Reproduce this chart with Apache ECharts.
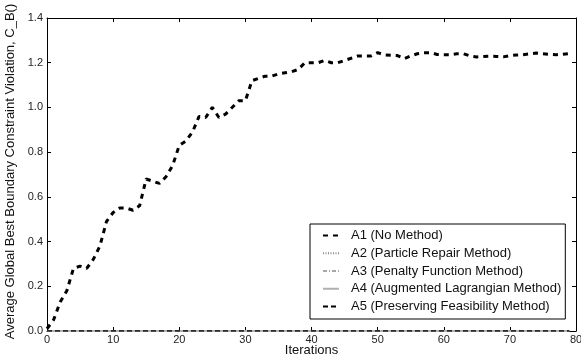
<!DOCTYPE html>
<html>
<head>
<meta charset="utf-8">
<script src="https://cdn.jsdelivr.net/npm/echarts@6/dist/echarts.min.js"></script>
<style>
  html, body { margin: 0; padding: 0; background: #fff; }
  #chart { width: 581px; height: 358px; }
</style>
</head>
<body>
<div id="chart"></div>
<script>
// Mean global-best boundary constraint violation per iteration, one array per method.
const seriesNames = [
  'A1 (No Method)',
  'A2 (Particle Repair Method)',
  'A3 (Penalty Function Method)',
  'A4 (Augmented Lagrangian Method)',
  'A5 (Preserving Feasibility Method)'
];

const a1Values = [
  0.01, 0.05, 0.13, 0.18, 0.28, 0.29, 0.28, 0.32, 0.38, 0.49,
  0.53, 0.55, 0.55, 0.54, 0.56, 0.68, 0.67, 0.66, 0.69, 0.74,
  0.83, 0.85, 0.89, 0.96, 0.955, 1.00, 0.955, 0.97, 1.00, 1.03,
  1.03, 1.12, 1.13, 1.14, 1.14, 1.15, 1.155, 1.16, 1.17, 1.20,
  1.20, 1.20, 1.21, 1.20, 1.20, 1.21, 1.22, 1.23, 1.23, 1.23,
  1.245, 1.235, 1.233, 1.232, 1.218, 1.23, 1.24, 1.245, 1.245, 1.237,
  1.236, 1.236, 1.24, 1.24, 1.23, 1.226, 1.228, 1.229, 1.228, 1.226,
  1.232, 1.234, 1.236, 1.24, 1.243, 1.24, 1.237, 1.236, 1.238, 1.241
];

const a2Values = [
  0, 0, 0, 0, 0, 0, 0, 0, 0, 0, 0, 0, 0, 0, 0, 0, 0, 0, 0, 0,
  0, 0, 0, 0, 0, 0, 0, 0, 0, 0, 0, 0, 0, 0, 0, 0, 0, 0, 0, 0,
  0, 0, 0, 0, 0, 0, 0, 0, 0, 0, 0, 0, 0, 0, 0, 0, 0, 0, 0, 0,
  0, 0, 0, 0, 0, 0, 0, 0, 0, 0, 0, 0, 0, 0, 0, 0, 0, 0, 0, 0
];

const a3Values = [
  0, 0, 0, 0, 0, 0, 0, 0, 0, 0, 0, 0, 0, 0, 0, 0, 0, 0, 0, 0,
  0, 0, 0, 0, 0, 0, 0, 0, 0, 0, 0, 0, 0, 0, 0, 0, 0, 0, 0, 0,
  0, 0, 0, 0, 0, 0, 0, 0, 0, 0, 0, 0, 0, 0, 0, 0, 0, 0, 0, 0,
  0, 0, 0, 0, 0, 0, 0, 0, 0, 0, 0, 0, 0, 0, 0, 0, 0, 0, 0, 0
];

const a4Values = [
  0, 0, 0, 0, 0, 0, 0, 0, 0, 0, 0, 0, 0, 0, 0, 0, 0, 0, 0, 0,
  0, 0, 0, 0, 0, 0, 0, 0, 0, 0, 0, 0, 0, 0, 0, 0, 0, 0, 0, 0,
  0, 0, 0, 0, 0, 0, 0, 0, 0, 0, 0, 0, 0, 0, 0, 0, 0, 0, 0, 0,
  0, 0, 0, 0, 0, 0, 0, 0, 0, 0, 0, 0, 0, 0, 0, 0, 0, 0, 0, 0
];

const a5Values = [
  0, 0, 0, 0, 0, 0, 0, 0, 0, 0, 0, 0, 0, 0, 0, 0, 0, 0, 0, 0,
  0, 0, 0, 0, 0, 0, 0, 0, 0, 0, 0, 0, 0, 0, 0, 0, 0, 0, 0, 0,
  0, 0, 0, 0, 0, 0, 0, 0, 0, 0, 0, 0, 0, 0, 0, 0, 0, 0, 0, 0,
  0, 0, 0, 0, 0, 0, 0, 0, 0, 0, 0, 0, 0, 0, 0, 0, 0, 0, 0, 0
];

// Axis ranges and tick spacing
const xRange = { min: 0, max: 80, interval: 10 };
const yRange = { min: 0, max: 1.4, interval: 0.2 };

const FONT = '"Liberation Sans", Arial, sans-serif';

// Pair every value with its iteration index (0, 1, 2, ...)
const toPoints = vals => vals.map((v, i) => [i, v]);

const lineStyles = [
  { color: '#000000', width: 3, type: [5, 5], cap: 'butt' },
  { color: '#8a8a8a', width: 1, type: [1, 1.5] },
  { color: '#a8a8a8', width: 1, type: [4, 2, 1, 2] },
  { color: '#b0b0b0', width: 2, type: 'solid' },
  { color: '#000000', width: 1.5, type: [5, 3] }
];
const seriesValues = [a1Values, a2Values, a3Values, a4Values, a5Values];

const tickStyle = { show: true, inside: true, length: 4, lineStyle: { color: '#000', width: 1 } };

const baseX = {
  type: 'value', min: xRange.min, max: xRange.max, interval: xRange.interval,
  axisLine: { show: true, onZero: false, lineStyle: { color: '#000', width: 1 } },
  splitLine: { show: false },
  axisTick: tickStyle
};
const baseY = {
  type: 'value', min: yRange.min, max: yRange.max, interval: yRange.interval,
  axisLine: { show: true, onZero: false, lineStyle: { color: '#000', width: 1 } },
  splitLine: { show: false },
  axisTick: tickStyle
};

const chart = echarts.init(document.getElementById('chart'), null, { renderer: 'canvas' });

chart.setOption({
  animation: false,
  backgroundColor: '#ffffff',
  textStyle: { fontFamily: FONT },
  grid: { left: 47, right: 5, top: 18, bottom: 27, containLabel: false, outerBoundsMode: 'none' },
  xAxis: [
    Object.assign({}, baseX, {
      position: 'bottom',
      name: 'Iterations',
      nameLocation: 'middle',
      nameGap: 13,
      nameMoveOverlap: false,
      nameTextStyle: { fontFamily: FONT, fontSize: 13, color: '#111' },
      axisLabel: { show: true, margin: 3, fontFamily: FONT, fontSize: 11, color: '#222' }
    }),
    Object.assign({}, baseX, { position: 'top', axisLabel: { show: false } })
  ],
  yAxis: [
    Object.assign({}, baseY, {
      position: 'left',
      name: 'Average Global Best Boundary Constraint Violation, C_B()',
      nameLocation: 'middle',
      nameGap: 30,
      nameMoveOverlap: false,
      nameTextStyle: { fontFamily: FONT, fontSize: 13, color: '#111', padding: [0, 0, 0, 6] },
      axisLabel: {
        show: true, margin: 4, fontFamily: FONT, fontSize: 11, color: '#222',
        formatter: v => v.toFixed(1)
      }
    }),
    Object.assign({}, baseY, { position: 'right', axisLabel: { show: false } })
  ],
  legend: {
    orient: 'vertical',
    left: 310,
    top: 224,
    data: seriesNames,
    backgroundColor: '#ffffff',
    borderColor: '#000000',
    borderWidth: 1,
    borderRadius: 0,
    padding: [5, 4, 6, 12],
    itemWidth: 16,
    itemHeight: 14,
    itemGap: 4.75,
    selectedMode: false,
    itemStyle: { opacity: 0 },
    textStyle: { fontFamily: FONT, fontSize: 13, color: '#111', padding: [0, 0, 0, 7] }
  },
  series: seriesNames.map((name, k) => ({
    name: name,
    type: 'line',
    xAxisIndex: 0,
    yAxisIndex: 0,
    data: toPoints(seriesValues[k]),
    symbol: 'none',
    showSymbol: false,
    smooth: false,
    lineStyle: lineStyles[k],
    itemStyle: { color: lineStyles[k].color },
    z: 2 + k
  }))
});
</script>
</body>
</html>
